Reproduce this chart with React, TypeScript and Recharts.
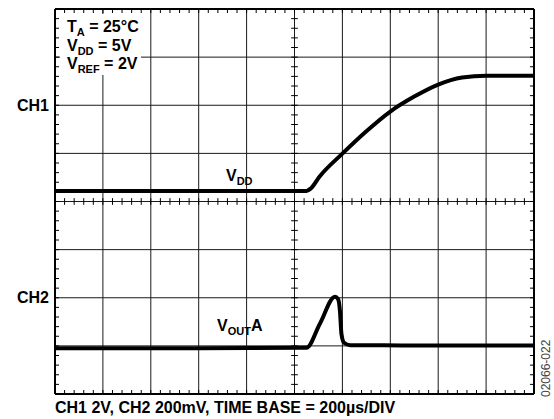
import { LineChart, Line, XAxis, YAxis, ReferenceLine } from "recharts";

// scope settings
const TIME_PER_DIV = 200; // µs
const H_DIVS = 10;
const V_DIVS = 8;
const CH1_VOLTS_PER_DIV = 2;
const CH1_GROUND_DIV = 4.22;
const CH2_MV_PER_DIV = 200;
const CH2_GROUND_DIV = 0.96;

// CH1: VDD (V)
const vddTimeUs = [0, 1050, 1068, 1105, 1200, 1300, 1400, 1500, 1600, 1700, 1800, 1900, 2000];
const vddVolts = [0, 0, 0.1, 0.6, 1.55, 2.48, 3.3, 3.92, 4.42, 4.71, 4.79, 4.79, 4.79];

// CH2: VOUTA (mV)
const voutTimeUs = [0, 600, 1020, 1050, 1106, 1169, 1182, 1190, 1196, 1207, 1232, 1450, 2000];
const voutMillivolts = [-2, -2, 0, 0, 100, 212, 202, 150, 58, 21, 11, 10, 10];

const majorTimes = [200, 400, 600, 800, 1000, 1200, 1400, 1600, 1800];
const majorDivs = [1, 2, 3, 4, 5, 6, 7];
const channelLabels = [
  { div: 6, text: "CH1" },
  { div: 2, text: "CH2" },
];

const minorTimes: number[] = [];
for (let i = 0; i <= H_DIVS * 5; i++) minorTimes.push((i * TIME_PER_DIV) / 5);
const minorDivs: number[] = [];
for (let i = 0; i <= V_DIVS * 5; i++) minorDivs.push(i / 5);

const vddData = vddTimeUs.map((t, i) => ({ t, v: vddVolts[i] }));
const voutData = voutTimeUs.map((t, i) => ({ t, v: voutMillivolts[i] }));

const font = "'Liberation Sans', Arial, Helvetica, sans-serif";
const noLabel = () => <g />;
const border = { stroke: "#000", strokeWidth: 2 };
const tickLine = { stroke: "#000", strokeWidth: 1 };

export default function App() {
  const center = H_DIVS * TIME_PER_DIV / 2;
  return (
    <div style={{ position: "absolute", left: 0, top: 0, width: 554, height: 419, background: "#fff" }}>
      <LineChart width={554} height={419} margin={{ top: 9, right: 20, bottom: 25, left: 55 }}>
        <XAxis xAxisId="b" type="number" dataKey="t" domain={[0, H_DIVS * TIME_PER_DIV]} ticks={minorTimes}
          interval={0} orientation="bottom" mirror tickSize={4} tick={noLabel} axisLine={border} tickLine={tickLine} allowDataOverflow />
        <XAxis xAxisId="t" type="number" dataKey="t" domain={[0, H_DIVS * TIME_PER_DIV]} ticks={minorTimes}
          interval={0} orientation="top" mirror tickSize={4} tick={noLabel} axisLine={border} tickLine={tickLine} allowDataOverflow />
        <YAxis yAxisId="l" type="number" domain={[0, V_DIVS]} ticks={minorDivs}
          interval={0} orientation="left" mirror tickSize={4} tick={noLabel} axisLine={border} tickLine={tickLine} allowDataOverflow />
        <YAxis yAxisId="r" type="number" domain={[0, V_DIVS]} ticks={minorDivs}
          interval={0} orientation="right" mirror tickSize={4} tick={noLabel} axisLine={border} tickLine={tickLine} allowDataOverflow />
        <YAxis yAxisId="ch1" type="number" hide allowDataOverflow
          domain={[-CH1_GROUND_DIV * CH1_VOLTS_PER_DIV, (V_DIVS - CH1_GROUND_DIV) * CH1_VOLTS_PER_DIV]} />
        <YAxis yAxisId="ch2" type="number" hide allowDataOverflow
          domain={[-CH2_GROUND_DIV * CH2_MV_PER_DIV, (V_DIVS - CH2_GROUND_DIV) * CH2_MV_PER_DIV]} />

        {majorTimes.map((t) => (
          <ReferenceLine key={"vx" + t} xAxisId="b" yAxisId="l" x={t} stroke="#1a1a1a" strokeWidth={1} />
        ))}
        {majorDivs.map((d) => {
          const lab = channelLabels.find((c) => c.div === d);
          return (
            <ReferenceLine key={"hy" + d} xAxisId="b" yAxisId="l" y={d} stroke="#1a1a1a" strokeWidth={1}
              label={lab ? { value: lab.text, position: "left", offset: 6, fill: "#000", fontSize: 16, fontWeight: 700, fontFamily: font } : undefined} />
          );
        })}
        {minorTimes.map((t) => (
          <ReferenceLine key={"cx" + t} xAxisId="b" yAxisId="l" stroke="#000" strokeWidth={1}
            segment={[{ x: t, y: V_DIVS / 2 - 0.07 }, { x: t, y: V_DIVS / 2 + 0.07 }]} />
        ))}
        {minorDivs.map((d) => (
          <ReferenceLine key={"cy" + d} xAxisId="b" yAxisId="l" stroke="#000" strokeWidth={1}
            segment={[{ x: center - 14, y: d }, { x: center + 14, y: d }]} />
        ))}

        <Line xAxisId="b" yAxisId="ch1" data={vddData} dataKey="v" type="monotone" stroke="#000" strokeWidth={4}
          dot={false} isAnimationActive={false} strokeLinejoin="round" />
        <Line xAxisId="b" yAxisId="ch2" data={voutData} dataKey="v" type="monotone" stroke="#000" strokeWidth={4}
          dot={false} isAnimationActive={false} strokeLinejoin="round" />
      </LineChart>

      <svg width={554} height={419} style={{ position: "absolute", left: 0, top: 0, pointerEvents: "none" }}
        fontFamily={font} fontWeight={700} fontSize={16} fill="#000">
        <rect x={60} y={14} width={81} height={61} fill="#fff" />
        <text x={67} y={32}>T<tspan fontSize={11} dy={4}>A</tspan><tspan dy={-4}> = 25°C</tspan></text>
        <text x={67} y={50.5}>V<tspan fontSize={11} dy={4}>DD</tspan><tspan dy={-4}> = 5V</tspan></text>
        <text x={67} y={69}>V<tspan fontSize={11} dy={4}>REF</tspan><tspan dy={-4}> = 2V</tspan></text>
        <text x={226} y={181}>V<tspan fontSize={11} dy={4}>DD</tspan></text>
        <text x={217} y={331}>V<tspan fontSize={11} dy={4}>OUT</tspan><tspan dy={-4}>A</tspan></text>
        <text x={55} y={413}>CH1 2V, CH2 200mV, TIME BASE = 200µs/DIV</text>
        <text x={550} y={397} transform="rotate(-90 550 397)" fontSize={12} fontWeight={400} fill="#444">02066-022</text>
      </svg>
    </div>
  );
}
